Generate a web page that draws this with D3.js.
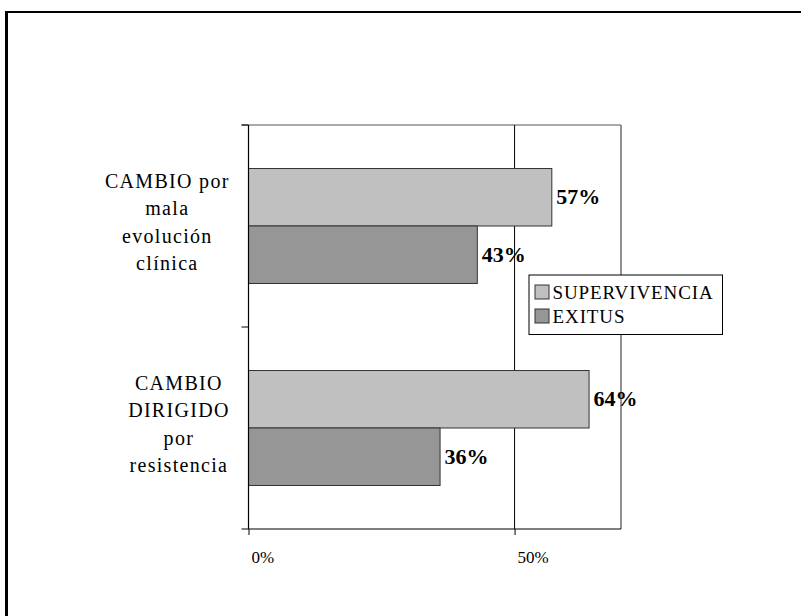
<!DOCTYPE html>
<html>
<head>
<meta charset="utf-8">
<script src="https://cdn.jsdelivr.net/npm/d3@7"></script>
<style>
  html, body { margin: 0; padding: 0; background: #fff; }
  svg { display: block; }
  text { font-family: "Liberation Serif", "Times New Roman", serif; fill: #000; }
</style>
</head>
<body>
<svg id="chart" width="801" height="616"></svg>
<script>
// Categories (top to bottom), each label split into display lines
const categories = ["mala", "dirigido"];
const categoryLines = [
  ["CAMBIO por", "mala", "evolución", "clínica"],
  ["CAMBIO", "DIRIGIDO", "por", "resistencia"]
];
// Series and their shares per category
const seriesNames = ["SUPERVIVENCIA", "EXITUS"];
const supervivencia = [0.57, 0.64];
const exitus = [0.43, 0.36];
const seriesColors = ["#c0c0c0", "#969696"];
// Value axis ticks
const xTicks = [0, 0.5];

const svg = d3.select("#chart");

// Outer frame (only top and left edges fall inside the canvas)
svg.append("line").attr("x1", 5).attr("x2", 801).attr("y1", 12).attr("y2", 12)
  .attr("stroke", "#000").attr("stroke-width", 2);
svg.append("line").attr("x1", 6.5).attr("x2", 6.5).attr("y1", 11).attr("y2", 616)
  .attr("stroke", "#000").attr("stroke-width", 3);

const plotLeft = 248.5, plotRight = 621, plotTop = 125, plotBottom = 529;
const labelRight = 229;

const x = d3.scaleLinear().domain([0, 0.7]).range([plotLeft, plotRight]);
const y = d3.scaleBand().domain(categories).range([plotTop, plotBottom]).padding(0);
const ySub = d3.scaleBand().domain(seriesNames).range([0, y.bandwidth()])
  .paddingInner(0).paddingOuter(0.757);

const rows = categories.map((c, i) => ({
  cat: c,
  lines: categoryLines[i],
  values: [supervivencia[i], exitus[i]]
}));

// Plot area: top and right edges in grey
svg.append("line").attr("x1", plotLeft - 7).attr("x2", plotRight).attr("y1", plotTop).attr("y2", plotTop)
  .attr("stroke", "#555").attr("stroke-width", 1);
svg.append("line").attr("x1", plotRight).attr("x2", plotRight).attr("y1", plotTop).attr("y2", plotBottom)
  .attr("stroke", "#6e6e6e").attr("stroke-width", 1.5);

// Vertical gridline at 50%
svg.append("line").attr("x1", x(0.5)).attr("x2", x(0.5)).attr("y1", plotTop).attr("y2", plotBottom)
  .attr("stroke", "#000").attr("stroke-width", 1);

// Bars
const groups = svg.selectAll("g.cat").data(rows).join("g")
  .attr("class", "cat")
  .attr("transform", d => `translate(0,${y(d.cat)})`);

groups.selectAll("rect").data(d => d.values.map((v, j) => ({ v, s: seriesNames[j], j })))
  .join("rect")
  .attr("x", x(0))
  .attr("y", d => ySub(d.s))
  .attr("width", d => x(d.v) - x(0))
  .attr("height", ySub.bandwidth())
  .attr("fill", d => seriesColors[d.j])
  .attr("stroke", "#333")
  .attr("stroke-width", 1);

// Value labels
groups.selectAll("text.val").data(d => d.values.map((v, j) => ({ v, s: seriesNames[j] })))
  .join("text")
  .attr("class", "val")
  .attr("x", d => x(d.v) + 4.5)
  .attr("y", d => ySub(d.s) + ySub.bandwidth() / 2 + 7)
  .attr("font-size", 22)
  .attr("font-weight", "bold")
  .text(d => d3.format(".0%")(d.v));

// Category labels: lines centred within a block whose right edge sits by the axis
groups.each(function (d) {
  const t = d3.select(this).append("text")
    .attr("text-anchor", "middle")
    .attr("font-size", 20)
    .attr("letter-spacing", 1.3);
  const spans = t.selectAll("tspan").data(d.lines).join("tspan")
    .attr("y", (s, i) => y.bandwidth() / 2 - 38.5 + i * 27.5)
    .text(s => s);
  let maxW = 0;
  spans.each(function () { maxW = Math.max(maxW, this.getComputedTextLength() - 1.3); });
  spans.attr("x", labelRight - maxW / 2);
});

// Left axis line and ticks at category boundaries
svg.append("line").attr("x1", plotLeft).attr("x2", plotLeft).attr("y1", plotTop).attr("y2", plotBottom)
  .attr("stroke", "#000").attr("stroke-width", 1.2);
const bounds = categories.map(c => y(c)).concat([y.range()[1]]);
svg.selectAll("line.ytick").data(bounds).join("line")
  .attr("class", "ytick")
  .attr("x1", plotLeft - 7).attr("x2", plotLeft)
  .attr("y1", d => d).attr("y2", d => d)
  .attr("stroke", "#000").attr("stroke-width", 1);

// Bottom axis
const xAxis = d3.axisBottom(x).tickValues(xTicks).tickFormat(d3.format(".0%"))
  .tickSize(6).tickSizeOuter(0);
const gx = svg.append("g").attr("transform", `translate(0,${plotBottom})`).call(xAxis);
gx.select(".domain").attr("d", `M${plotLeft},0H${plotRight}`).attr("stroke", "#000").attr("stroke-width", 1.2);
gx.selectAll(".tick line").attr("stroke", "#000");
gx.selectAll(".tick text")
  .attr("text-anchor", "start")
  .attr("x", 2.5).attr("y", 34).attr("dy", 0)
  .attr("font-size", 17)
  .attr("fill", "#000");

// Legend
const legend = svg.append("g").attr("transform", "translate(529,275)");
legend.append("rect").attr("x", 0).attr("y", 0).attr("width", 193.5).attr("height", 59.5)
  .attr("fill", "#fff").attr("stroke", "#000").attr("stroke-width", 1);
const li = legend.selectAll("g.item").data(seriesNames).join("g")
  .attr("class", "item")
  .attr("transform", (d, i) => `translate(6,${10 + i * 24})`);
li.append("rect").attr("width", 14).attr("height", 14)
  .attr("fill", (d, i) => seriesColors[i]).attr("stroke", "#333").attr("stroke-width", 1);
li.append("text").attr("x", 17.5).attr("y", 14.3).attr("font-size", 19)
  .attr("letter-spacing", 0.9).text(d => d);
</script>
</body>
</html>
